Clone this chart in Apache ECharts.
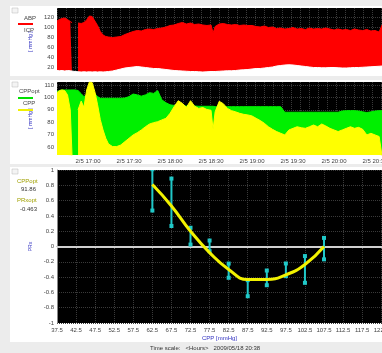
<!DOCTYPE html>
<html><head><meta charset="utf-8">
<script src="https://cdn.jsdelivr.net/npm/echarts@6/dist/echarts.min.js"></script>
<style>html,body{margin:0;padding:0;background:#ececec;overflow:hidden;}#c{width:382px;height:353px;}</style>
</head><body><div id="c"></div><script>
// time in minutes after 16:00
const T = [37.3,39,41,43,45,47,48.3,50.5,52.7,55,57,59,61,63,65,67,69,71,73,75,78,81,84,87,90,93,96,99,102,105,108,111,114,117,120,123,126,129,132,135,138,141,144,147,150,151.5,153,156,159,162,165,168,171,174,177,180,183,186,189,192,195,198,201,204,207,210,213,216,219,222,225,228,231,234,237,240,243,246,249,252,255,258,261,264,267,270,273,275.1];
const ABP = [112,115,117,118,115,111,108.5,null,108,107,109,114,122,121,112,103,91,84,81,80,79,80,81,85,88,91,93,92,95,96,95,97,98,100,103,104,107,109,106,108,105,106,104,103,104,88,101,106,107,105,104,105,103,104,103,103,101,100,102,99,100,97,98,96,97,99,96,97,95,98,96,97,96,98,96,94,96,94,95,93,96,94,93,95,92,93,90,104];
const ICP = [13,12.5,13,12,13,12.5,12,11,10.5,10,10.5,10,10.5,10,10.5,10,10.5,10,10.5,11,12,14,16,18,19,20,21,20,19,18,17,17,16,15,14,13,12.5,12,11.5,11,11,10.5,10,10.5,11,11,11,11.5,12,12.5,12.5,13,14,14.5,15,16,17,17,18,19,20,22,23,24,24.5,24,23,22,21,20,19,19,18.5,18.5,19,19,18.5,18,18,18.5,19,19,19.5,20,20.5,21,21.5,22];
const CPPOPT = [104.6,105.5,106,106,106,106,106,106,105.5,103,100.6,102,106,106,103,100.6,99.3,99.3,99.3,99.3,99.3,99.3,99.3,99.5,100.6,102.7,102,101,102,103.8,103.2,105.5,98,95.7,94,93.5,93.2,93,93,93,93,92.8,92.8,92.8,92.8,92.8,92.5,92.5,92.5,92.5,92.5,92.5,92.5,92.5,92.5,92.5,92.5,92.5,92.5,92.5,92.5,92.5,92.5,88,88,88,88,88,88,88,88,88,88,88,88,88,88,89,89.3,89.3,89.3,89,88.3,87.8,88.3,89,89.3,89.3];
const CPP = [103.8,105.4,106,105.4,102,90,53,null,90,97,92,106,112.5,112,104.6,94,82,73.7,67,62.4,60.3,60.3,61.6,64.3,67,69.7,71.5,73.7,76.3,78.5,79.6,80.4,81.8,83.1,87.1,92.5,97.3,95.2,92,97.3,92.9,91.1,91.8,90.2,89.6,74,88.3,96.8,94.9,91.1,89.3,88.3,87.1,86.3,85.8,85,83.1,81.3,79.1,76.3,74.2,72.4,71,69.7,73.7,75,76.3,75.5,75,76.3,77.7,76.3,78.5,76.9,75,73.7,72.4,73.7,75,76.3,75,75.8,74.2,69.7,71,69.7,68.4,53];
const TIME_TICKS = [60,90,120,150,180,210,240,270];
// PRx vs CPP bins
const BIN_CPP = [62.5,67.5,72.5,77.5,82.5,87.5,92.5,97.5,102.5,107.5];
const PRX_MEAN = [0.74,0.578,0.135,0.008,-0.316,-0.545,-0.41,-0.305,-0.30,-0.028];
const PRX_SD = [0.27,0.31,0.11,0.07,0.093,0.105,0.096,0.083,0.175,0.14];
const PRX_FIT = [0.81,0.53,0.2,-0.08,-0.30,-0.43,-0.43,-0.37,-0.235,0.0];

const chart = echarts.init(document.getElementById('c'));
const FONT = 'Liberation Sans';
const lab = {fontSize:6, color:'#444', fontFamily:FONT};
const pad2 = n => String(n).padStart(2,'0');
const fmtTime = m => { const h = 16 + Math.floor(m/60); const mm = Math.round(m % 60); return '2/5 ' + h + ':' + pad2(mm); };
const gridLine = {show:true, lineStyle:{color:'#3a3a3a', width:1, type:[1,1]}};
const pair = (xs, ys) => xs.map((x,i)=>[x, ys[i]]);
const G = {show:true, backgroundColor:'#000', borderWidth:0, outerBoundsMode:'none', containLabel:false};

chart.setOption({
  animation:false,
  backgroundColor:'#ececec',
  grid:[
    Object.assign({left:57, top:8, width:325, height:67}, G),
    Object.assign({left:57, top:82, width:325, height:73}, G),
    Object.assign({left:57, top:170, width:325, height:153}, G)
  ],
  xAxis:[
    {gridIndex:0, type:'value', min:37.3, max:275.1, axisLine:{show:false}, axisTick:{show:false}, axisLabel:{show:false}, splitLine:{show:false}},
    {gridIndex:1, type:'value', min:37.3, max:275.1, axisLine:{show:false}, axisTick:{show:false},
      axisLabel:Object.assign({customValues:TIME_TICKS, formatter:fmtTime, margin:3}, lab), splitLine:{show:false}},
    {gridIndex:2, type:'value', min:37.5, max:122.7, interval:5, axisLine:{show:true, lineStyle:{color:'#888'}}, axisTick:{show:true, length:2, lineStyle:{color:'#888'}},
      axisLabel:Object.assign({margin:4, formatter:v=>String(v)}, lab), splitLine:gridLine,
      name:'CPP [mmHg]', nameLocation:'middle', nameGap:12, nameTextStyle:{fontSize:6, color:'#3030c0', fontFamily:FONT}},
    {gridIndex:0, type:'value', min:0, max:325, interval:9, show:true, axisLine:{show:false}, axisTick:{show:false}, axisLabel:{show:false}, splitLine:gridLine},
    {gridIndex:1, type:'value', min:0, max:325, interval:9, show:true, axisLine:{show:false}, axisTick:{show:false}, axisLabel:{show:false}, splitLine:gridLine}
  ],
  yAxis:[
    {gridIndex:0, type:'value', min:4, max:138, axisLine:{show:false}, axisTick:{show:false, customValues:[20,40,60,80,100,120]},
      axisLabel:Object.assign({customValues:[20,40,60,80,100,120], margin:3}, lab), splitLine:gridLine,
      name:'[ mmHg ]', nameLocation:'middle', nameGap:12, nameRotate:90, nameTextStyle:{fontSize:5, color:'#3030c0', fontFamily:FONT}},
    {gridIndex:1, type:'value', min:53.5, max:112.4, axisLine:{show:false}, axisTick:{show:false, customValues:[60,70,80,90,100,110]},
      axisLabel:Object.assign({customValues:[60,70,80,90,100,110], margin:3}, lab), splitLine:gridLine,
      name:'[ mmHg ]', nameLocation:'middle', nameGap:12, nameRotate:90, nameTextStyle:{fontSize:5, color:'#3030c0', fontFamily:FONT}},
    {gridIndex:2, type:'value', min:-1, max:1, interval:0.2, axisLine:{show:true, lineStyle:{color:'#888'}}, axisTick:{show:false},
      axisLabel:Object.assign({margin:3}, lab), splitLine:gridLine,
      name:'PRx', nameLocation:'middle', nameGap:12, nameRotate:90, nameTextStyle:{fontSize:5, color:'#3030c0', fontFamily:FONT}}
  ],
  series:[
    {name:'ABP', type:'line', xAxisIndex:0, yAxisIndex:0, data:pair(T,ABP), showSymbol:false, z:3,
      lineStyle:{color:'#ff0000', width:1}, areaStyle:{color:'#ff0000', opacity:1}},
    {name:'ICP', type:'line', xAxisIndex:0, yAxisIndex:0, data:pair(T,ICP), showSymbol:false, z:4,
      lineStyle:{color:'#ffffff', width:1}, areaStyle:{color:'#ffffff', opacity:1}},
    {name:'CPPopt', type:'line', xAxisIndex:1, yAxisIndex:1, data:pair(T,CPPOPT), showSymbol:false, z:3,
      lineStyle:{color:'#00f000', width:1}, areaStyle:{color:'#00f000', opacity:1}},
    {name:'CPP', type:'line', xAxisIndex:1, yAxisIndex:1, data:pair(T,CPP), showSymbol:false, z:4,
      lineStyle:{color:'#ffff00', width:1}, areaStyle:{color:'#ffff00', opacity:1}},
    {name:'PRxBars', type:'custom', xAxisIndex:2, yAxisIndex:2, z:5,
      data:BIN_CPP.map((c,i)=>[c, PRX_MEAN[i]-PRX_SD[i], PRX_MEAN[i]+PRX_SD[i]]),
      renderItem:(params, api)=>{
        const x = api.value(0);
        const p1 = api.coord([x, api.value(2)]), p2 = api.coord([x, api.value(1)]);
        const cs = params.coordSys;
        const col = '#20c8c8';
        return {type:'group', clipPath:{type:'rect', shape:{x:cs.x, y:cs.y, width:cs.width, height:cs.height}}, children:[
          {type:'line', shape:{x1:p1[0], y1:p1[1], x2:p2[0], y2:p2[1]}, style:{stroke:col, lineWidth:2}},
          {type:'rect', shape:{x:p1[0]-2, y:p1[1]-2, width:4, height:4}, style:{fill:col}},
          {type:'rect', shape:{x:p2[0]-2, y:p2[1]-2, width:4, height:4}, style:{fill:col}}
        ]};
      }},
    {name:'PRxFit', type:'line', xAxisIndex:2, yAxisIndex:2, data:pair(BIN_CPP,PRX_FIT), smooth:0.5, showSymbol:false, z:6,
      lineStyle:{color:'#f2f200', width:3},
      markLine:{silent:true, symbol:'none', label:{show:false}, lineStyle:{color:'#d0d0d0', width:2, type:'solid'}, data:[{yAxis:0}]}}
  ],
  graphic:[
    {type:'rect', z:-10, shape:{x:10, y:6, width:372, height:70}, style:{fill:'#fff'}},
    {type:'rect', z:-10, shape:{x:10, y:80, width:372, height:84}, style:{fill:'#fff'}},
    {type:'rect', z:-10, shape:{x:10, y:167, width:372, height:175}, style:{fill:'#fff'}},
    {type:'rect', z:10, shape:{x:12, y:8, width:6, height:5}, style:{fill:'#f4f4f4', stroke:'#bbb', lineWidth:0.5}},
    {type:'rect', z:10, shape:{x:12, y:82, width:6, height:5}, style:{fill:'#f4f4f4', stroke:'#bbb', lineWidth:0.5}},
    {type:'rect', z:10, shape:{x:12, y:169, width:6, height:5}, style:{fill:'#f4f4f4', stroke:'#bbb', lineWidth:0.5}},
    {type:'text', z:10, x:24, y:15, style:{text:'ABP', fontSize:6, fill:'#444', fontFamily:FONT}},
    {type:'line', z:10, shape:{x1:18, y1:24, x2:33, y2:24}, style:{stroke:'#ff0000', lineWidth:2}},
    {type:'text', z:10, x:24, y:27, style:{text:'ICP', fontSize:6, fill:'#444', fontFamily:FONT}},
    {type:'text', z:10, x:19, y:88, style:{text:'CPPopt', fontSize:6, fill:'#444', fontFamily:FONT}},
    {type:'line', z:10, shape:{x1:18, y1:98, x2:33, y2:98}, style:{stroke:'#00e000', lineWidth:2}},
    {type:'text', z:10, x:23, y:100, style:{text:'CPP', fontSize:6, fill:'#444', fontFamily:FONT}},
    {type:'line', z:10, shape:{x1:18, y1:110, x2:33, y2:110}, style:{stroke:'#f0f000', lineWidth:2}},
    {type:'text', z:10, x:17, y:178, style:{text:'CPPopt', fontSize:6, fill:'#a0a000', fontFamily:FONT}},
    {type:'text', z:10, x:21, y:186, style:{text:'91.86', fontSize:6, fill:'#333', fontFamily:FONT}},
    {type:'text', z:10, x:17, y:197, style:{text:'PRxopt', fontSize:6, fill:'#a0a000', fontFamily:FONT}},
    {type:'text', z:10, x:20, y:206, style:{text:'-0.463', fontSize:6, fill:'#333', fontFamily:FONT}},
    {type:'text', z:10, x:150, y:345, style:{text:'Time scale:   <Hours>   2009/05/18 20:38', fontSize:6, fill:'#333', fontFamily:FONT}}
  ]
});
</script></body></html>
